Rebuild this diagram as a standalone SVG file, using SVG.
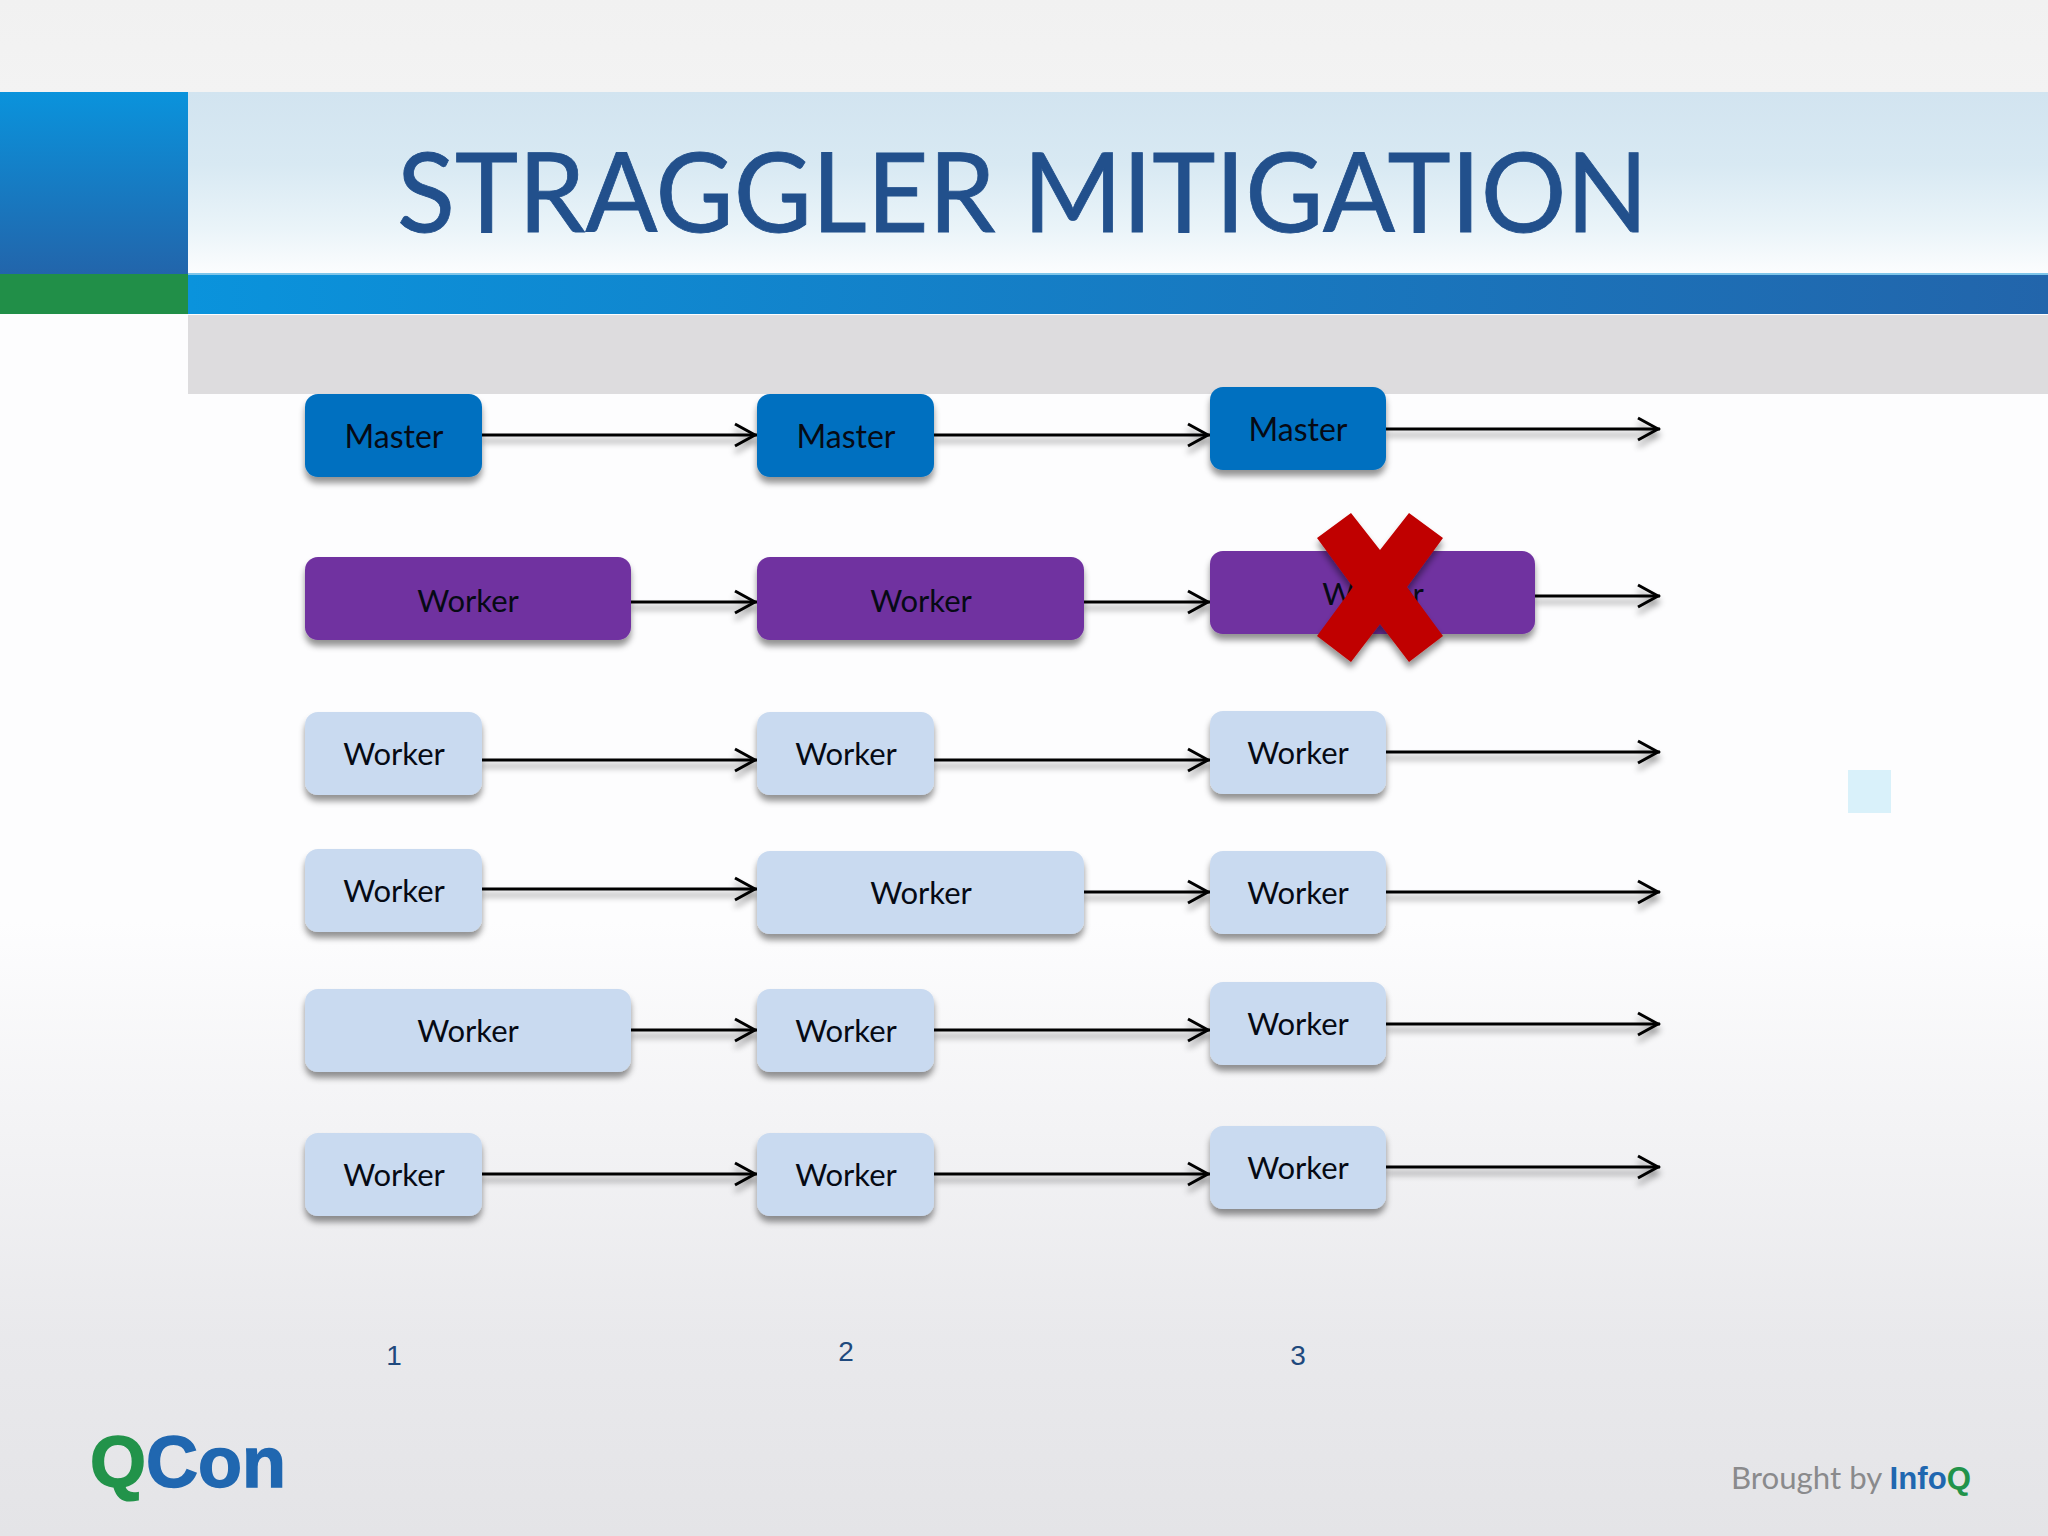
<svg xmlns="http://www.w3.org/2000/svg" width="2048" height="1536" viewBox="0 0 2048 1536">
<style>
.n{font-family:"Lato","Open Sans",sans-serif;font-size:32px;fill:#060a14;text-anchor:middle}
.v{font-size:31px}
.c{fill:none;stroke:#000;stroke-width:3;marker-end:url(#arr)}
.m{fill:#0070c0}.p{fill:#7030a0}.w{fill:#c9daf0}
.b{filter:url(#sh)}
.k{font-family:"Liberation Sans",Arial,sans-serif;font-size:28px;fill:#1f497d;text-anchor:middle}
</style>
<defs>
<linearGradient id="bg" x1="0" y1="0" x2="0" y2="1"><stop offset="0" stop-color="#f1f1f1"/><stop offset=".06" stop-color="#f3f3f3"/><stop offset=".2" stop-color="#fdfdfe"/><stop offset=".6" stop-color="#fdfdfe"/><stop offset=".87" stop-color="#e9e9ec"/><stop offset="1" stop-color="#e4e4e7"/></linearGradient>
<linearGradient id="hd" x1="0" y1="0" x2="0" y2="1"><stop offset="0" stop-color="#d2e4f0"/><stop offset=".4" stop-color="#d8e9f3"/><stop offset=".75" stop-color="#eaf4f9"/><stop offset="1" stop-color="#fcfdfe"/></linearGradient>
<linearGradient id="sq" x1="0" y1="0" x2="0" y2="1"><stop offset="0" stop-color="#0a93dc"/><stop offset="1" stop-color="#2265ab"/></linearGradient>
<linearGradient id="bar" x1="0" y1="0" x2="1" y2="0"><stop offset="0" stop-color="#0a93dc"/><stop offset="1" stop-color="#2265ab"/></linearGradient>
<filter id="sh" x="-10%" y="-20%" width="120%" height="150%"><feDropShadow dx="0" dy="6" stdDeviation="3" flood-color="#000" flood-opacity=".42"/></filter>
<marker id="arr" markerUnits="userSpaceOnUse" markerWidth="26" markerHeight="28" refX="23" refY="13" orient="auto"><path d="M1 2 L21 13 L1 24" fill="none" stroke="#000" stroke-width="3"/></marker>
</defs>
<rect width="2048" height="1536" fill="url(#bg)"/>
<g id="header">
<rect x="188" y="92" width="1860" height="182" fill="url(#hd)"/>
<rect x="0" y="92" width="188" height="182" fill="url(#sq)"/>
<rect x="0" y="274" width="188" height="40" fill="#218f48"/>
<rect x="188" y="274" width="1860" height="40" fill="url(#bar)"/>
<rect x="188" y="273" width="1860" height="2" fill="#7fc6ea"/>
<rect x="188" y="315" width="1860" height="79" fill="#dddcde"/>
<rect x="1848" y="770" width="43" height="43" fill="#d9f1fa"/>
<text id="title" x="397" y="232" font-family="Lato,'Open Sans',sans-serif" font-size="111" fill="#22508c" stroke="#22508c" stroke-width=".8" textLength="1251" lengthAdjust="spacingAndGlyphs">STRAGGLER MITIGATION</text>
</g>
<g id="connectors" filter="url(#sh)">
<path class="c" d="M482 435H757"/><path class="c" d="M934 435H1210"/><path class="c" d="M1386 429H1660"/>
<path class="c" d="M631 602H757"/><path class="c" d="M1083 602H1210"/><path class="c" d="M1535 596H1660"/>
<path class="c" d="M482 760H757"/><path class="c" d="M934 760H1210"/><path class="c" d="M1386 752H1660"/>
<path class="c" d="M482 889H757"/><path class="c" d="M1083 892H1210"/><path class="c" d="M1386 892H1660"/>
<path class="c" d="M631 1030H757"/><path class="c" d="M934 1030H1210"/><path class="c" d="M1386 1024H1660"/>
<path class="c" d="M482 1174H757"/><path class="c" d="M934 1174H1210"/><path class="c" d="M1386 1167H1660"/>
</g>
<g id="m1"><rect class="b m" x="305" y="394" width="177" height="83" rx="13"/><text class="n" x="394" y="448">Master</text></g>
<g id="m2"><rect class="b m" x="757" y="394" width="177" height="83" rx="13"/><text class="n" x="846" y="448">Master</text></g>
<g id="m3"><rect class="b m" x="1210" y="387" width="176" height="83" rx="13"/><text class="n" x="1298" y="441">Master</text></g>
<g id="p1"><rect class="b p" x="305" y="557" width="326" height="83" rx="13"/><text class="n v" x="468" y="612">Worker</text></g>
<g id="p2"><rect class="b p" x="757" y="557" width="327" height="83" rx="13"/><text class="n v" x="921" y="612">Worker</text></g>
<g id="p3"><rect class="b p" x="1210" y="551" width="325" height="83" rx="13"/><text class="n v" x="1373" y="605">Worker</text></g>
<g id="w11"><rect class="b w" x="305" y="712" width="177" height="83" rx="13"/><text class="n v" x="394" y="765">Worker</text></g>
<g id="w12"><rect class="b w" x="757" y="712" width="177" height="83" rx="13"/><text class="n v" x="846" y="765">Worker</text></g>
<g id="w13"><rect class="b w" x="1210" y="711" width="176" height="83" rx="13"/><text class="n v" x="1298" y="764">Worker</text></g>
<g id="w21"><rect class="b w" x="305" y="849" width="177" height="83" rx="13"/><text class="n v" x="394" y="902">Worker</text></g>
<g id="w22"><rect class="b w" x="757" y="851" width="327" height="83" rx="13"/><text class="n v" x="921" y="904">Worker</text></g>
<g id="w23"><rect class="b w" x="1210" y="851" width="176" height="83" rx="13"/><text class="n v" x="1298" y="904">Worker</text></g>
<g id="w31"><rect class="b w" x="305" y="989" width="326" height="83" rx="13"/><text class="n v" x="468" y="1042">Worker</text></g>
<g id="w32"><rect class="b w" x="757" y="989" width="177" height="83" rx="13"/><text class="n v" x="846" y="1042">Worker</text></g>
<g id="w33"><rect class="b w" x="1210" y="982" width="176" height="83" rx="13"/><text class="n v" x="1298" y="1035">Worker</text></g>
<g id="w41"><rect class="b w" x="305" y="1133" width="177" height="83" rx="13"/><text class="n v" x="394" y="1186">Worker</text></g>
<g id="w42"><rect class="b w" x="757" y="1133" width="177" height="83" rx="13"/><text class="n v" x="846" y="1186">Worker</text></g>
<g id="w43"><rect class="b w" x="1210" y="1126" width="176" height="83" rx="13"/><text class="n v" x="1298" y="1179">Worker</text></g>
<g id="cross"><polygon filter="url(#sh)" fill="#c00000" points="1351,513 1380,550 1409,513 1443,538 1407,587 1443,636 1409,662 1380,624 1351,662 1317,636 1353,587 1317,538"/></g>
<g id="labels">
<text class="k" x="394" y="1365">1</text><text class="k" x="846" y="1361">2</text><text class="k" x="1298" y="1365">3</text>
</g>
<g id="logos">
<text x="90" y="1487" font-family="'Liberation Sans',Arial,sans-serif" font-weight="700" font-size="72" fill="#2067b0" stroke="#2067b0" stroke-width="1.5" textLength="196" lengthAdjust="spacingAndGlyphs"><tspan fill="#22934a" stroke="#22934a">Q</tspan>Con</text>
<text x="1731" y="1489" font-family="Lato,sans-serif" font-size="31" fill="#8a8a8c" textLength="240" lengthAdjust="spacingAndGlyphs">Brought by <tspan font-family="'Liberation Sans',sans-serif" font-weight="700" fill="#2067b0">Info</tspan><tspan font-family="'Liberation Sans',sans-serif" font-weight="700" fill="#22934a">Q</tspan></text>
</g>
</svg>
